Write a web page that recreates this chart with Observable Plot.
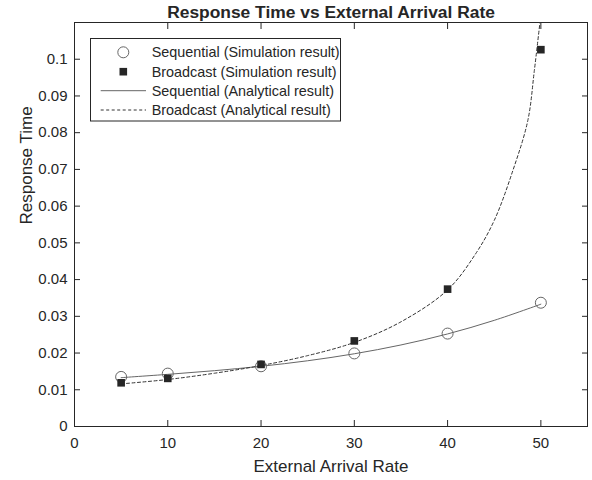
<!DOCTYPE html>
<html><head><meta charset="utf-8">
<script src="https://cdn.jsdelivr.net/npm/d3@7"></script>
<script src="https://cdn.jsdelivr.net/npm/@observablehq/plot@0.6"></script>
<style>
body{margin:0;background:#fff;}
#chart{position:relative;width:592px;height:480px;}
</style>
</head><body><div id="chart"></div>
<script>
const titleText = "Response Time vs External Arrival Rate";
const xLabel = "External Arrival Rate";
const yLabel = "Response Time";

// simulation points
const simX = [5, 10, 20, 30, 40, 50];
const seqSim = [0.0135, 0.0144, 0.0164, 0.0199, 0.0253, 0.0337];
const bcSim  = [0.0119, 0.0131, 0.0169, 0.0233, 0.0374, 0.1026];

// analytical curves
const seqAnaX = [5, 10, 15, 20, 25, 30, 35, 40, 45, 50];
const seqAna  = [0.0133, 0.0142, 0.0152, 0.0164, 0.0179, 0.0198, 0.0222, 0.0252, 0.0289, 0.0333];
const bcAnaX = [5, 10, 15, 20, 25, 30, 35, 40, 43, 45, 47, 48.6, 49.3, 49.9];
const bcAna  = [0.0116, 0.0128, 0.0145, 0.0166, 0.0193, 0.0229, 0.0285, 0.0372, 0.0470, 0.0561, 0.0697, 0.0833, 0.0969, 0.1100];

const xTicks = [0, 10, 20, 30, 40, 50];
const yTicks = [0, 0.01, 0.02, 0.03, 0.04, 0.05, 0.06, 0.07, 0.08, 0.09, 0.1];
const yTickLabels = ["0", "0.01", "0.02", "0.03", "0.04", "0.05", "0.06", "0.07", "0.08", "0.09", "0.1"];

const legendLabels = [
  "Sequential (Simulation result)",
  "Broadcast (Simulation result)",
  "Sequential (Analytical result)",
  "Broadcast (Analytical result)"
];

const zip = (xs, ys) => xs.map((x, i) => ({x, y: ys[i]}));
const seqSimData = zip(simX, seqSim);
const bcSimData = zip(simX, bcSim);
const seqAnaData = zip(seqAnaX, seqAna);
const bcAnaData = zip(bcAnaX, bcAna);

const FONT = "'Liberation Sans', Arial, Helvetica, sans-serif";
const INK = "#262626";
const blank = () => "";

const plot = Plot.plot({
  width: 592, height: 480,
  marginLeft: 74, marginRight: 5, marginTop: 22, marginBottom: 54,
  style: {fontFamily: FONT, fontSize: "15px", color: INK, background: "#fff"},
  x: {domain: [0, 55]},
  y: {domain: [0, 0.11]},
  marks: [
    Plot.frame({stroke: INK, strokeWidth: 1}),
    // inward ticks on all four sides
    Plot.axisX({anchor: "bottom", ticks: xTicks, tickSize: -6, tickFormat: blank, label: null, stroke: INK}),
    Plot.axisX({anchor: "top", ticks: xTicks, tickSize: -6, tickFormat: blank, label: null, stroke: INK}),
    Plot.axisY({anchor: "left", ticks: yTicks, tickSize: -6, tickFormat: blank, label: null, stroke: INK}),
    Plot.axisY({anchor: "right", ticks: yTicks, tickSize: -6, tickFormat: blank, label: null, stroke: INK}),
    // tick labels
    Plot.axisX({anchor: "bottom", ticks: xTicks, tickSize: 0, tickPadding: 11, fontSize: 15,
      tickFormat: d => String(d), label: null}),
    Plot.axisY({anchor: "left", ticks: yTicks, tickSize: 0, tickPadding: 7, fontSize: 15,
      tickFormat: d => yTickLabels[yTicks.indexOf(d)], label: null}),
    // axis titles
    Plot.text([xLabel], {frameAnchor: "bottom", lineAnchor: "middle", dy: 40.5, fontSize: 17, fill: INK}),
    Plot.text([yLabel], {frameAnchor: "left", lineAnchor: "middle", rotate: -90, dx: -48, fontSize: 17, fill: INK}),
    // analytical curves
    Plot.line(seqAnaData, {x: "x", y: "y", stroke: "#666", strokeWidth: 1, curve: "catmull-rom"}),
    Plot.line(bcAnaData, {x: "x", y: "y", stroke: "#333", strokeWidth: 1, strokeDasharray: "3,2.5", curve: "catmull-rom", clip: true}),
    // simulation points
    Plot.dot(seqSimData, {x: "x", y: "y", r: 5.5, stroke: "#666", strokeWidth: 1, fill: "none"}),
    Plot.dot(bcSimData, {x: "x", y: "y", symbol: "square", r: 4.3, fill: INK, stroke: "none"}),
    // title
    Plot.text([titleText], {frameAnchor: "top", lineAnchor: "bottom", dy: -4.5, fontSize: 17.4, fontWeight: "bold", fill: INK})
  ]
});

document.getElementById("chart").appendChild(plot);

// legend box
const svg = d3.select(plot);
const lg = svg.append("g").attr("font-family", FONT).attr("font-size", 14.4)
  .attr("fill", INK).attr("text-anchor", "start");
lg.append("rect").attr("x", 90.5).attr("y", 38.5).attr("width", 250).attr("height", 82.5)
  .attr("fill", "#fff").attr("stroke", INK).attr("stroke-width", 1);
const rowsY = [52.3, 71.7, 90.7, 110];
const symX = 123.3;
legendLabels.forEach((t, i) => {
  lg.append("text").attr("x", 151.7).attr("y", rowsY[i]).attr("dy", "0.35em")
    .attr("text-anchor", "start").text(t);
});
lg.append("circle").attr("cx", symX).attr("cy", rowsY[0]).attr("r", 5.5).attr("fill", "none").attr("stroke", "#666");
lg.append("rect").attr("x", symX - 3.8).attr("y", rowsY[1] - 3.8).attr("width", 7.6).attr("height", 7.6).attr("fill", INK);
lg.append("line").attr("x1", 100.7).attr("x2", 146).attr("y1", rowsY[2]).attr("y2", rowsY[2]).attr("stroke", "#666");
lg.append("line").attr("x1", 100.7).attr("x2", 146).attr("y1", rowsY[3]).attr("y2", rowsY[3]).attr("stroke", "#333").attr("stroke-dasharray", "3,2.5");
</script>
</body></html>
